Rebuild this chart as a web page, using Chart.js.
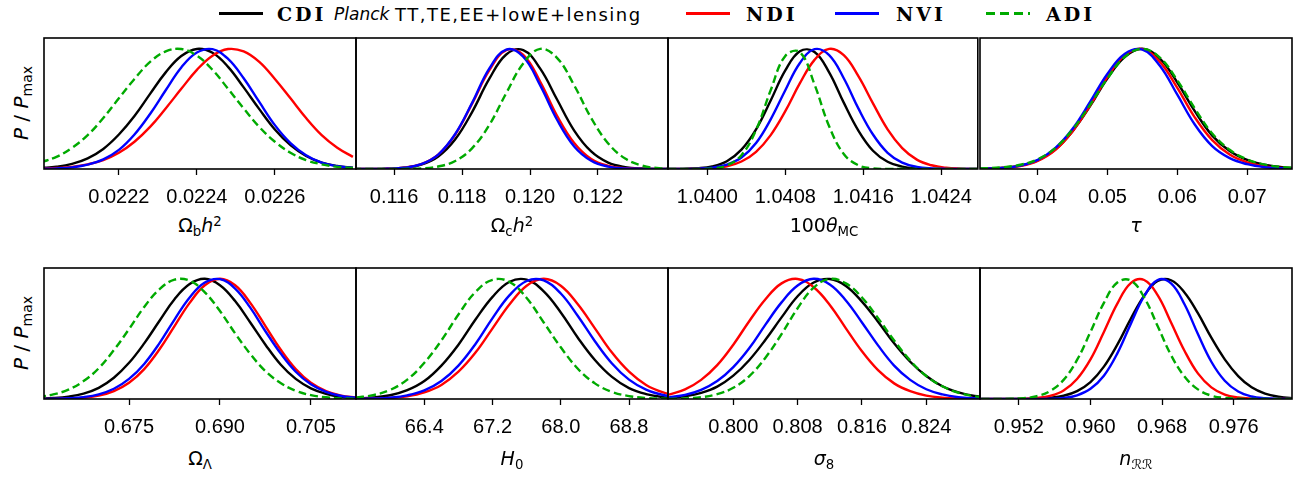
<!DOCTYPE html>
<html><head><meta charset="utf-8">
<script src="https://cdn.jsdelivr.net/npm/chart.js@4/dist/chart.umd.min.js"></script>
<style>
html,body{margin:0;padding:0;background:#fff;}
#root{position:relative;width:1306px;height:477px;overflow:hidden;font-family:"Liberation Sans",Arial,sans-serif;color:#000;}
canvas{position:absolute;}
.xt{position:absolute;width:312px;text-align:center;font-family:"DejaVu Sans",sans-serif;font-size:19px;line-height:19px;white-space:nowrap;}
.sb{position:relative;top:0.28em;font-size:0.7em;line-height:0;}
.sp{position:relative;top:-0.45em;font-size:0.7em;line-height:0;}
.yl{position:absolute;font-family:"DejaVu Sans",sans-serif;font-size:20px;line-height:20px;white-space:nowrap;transform:translate(-50%,-50%) rotate(-90deg);}
.lg{position:absolute;top:12px;width:44px;height:3px;}
.ls{position:absolute;top:5.5px;font-family:"DejaVu Sans",sans-serif;font-size:18px;line-height:18px;white-space:nowrap;letter-spacing:1.5px;}
.lp{position:absolute;top:6px;font-family:"DejaVu Sans",sans-serif;font-style:oblique;font-size:17px;line-height:17px;white-space:nowrap;}
.lb{position:absolute;top:4.6px;font-family:"DejaVu Serif",serif;font-weight:bold;font-size:19px;line-height:19px;letter-spacing:3px;white-space:nowrap;}
</style></head>
<body><div id="root">
<div class="lg" style="left:219px;background:#000"></div>
<div class="lb" style="left:277px">CDI</div>
<div class="lp" style="left:334px">Planck</div>
<div class="ls" style="left:395px">TT,TE,EE+lowE+lensing</div>
<div class="lg" style="left:686px;background:#ff0000"></div>
<div class="lb" style="left:746px">NDI</div>
<div class="lg" style="left:835px;background:#0000ff"></div>
<div class="lb" style="left:896px">NVI</div>
<div class="lg" style="left:986px;background:repeating-linear-gradient(90deg,#00aa00 0 9px,transparent 9px 14px)"></div>
<div class="lb" style="left:1046px">ADI</div>
<div class="yl" style="left:21px;top:103px"><i>P</i> / <i>P</i><span class="sb">max</span></div>
<div class="yl" style="left:21px;top:333px"><i>P</i> / <i>P</i><span class="sb">max</span></div>
</div>
<script>
// ---------- data ----------
const seriesNames = ['CDI Planck TT,TE,EE+lowE+lensing', 'NDI', 'NVI', 'ADI'];

// Omega_b h^2
const obh2_x   = [0.02200,0.02204,0.02208,0.02212,0.02216,0.02220,0.02224,0.02228,0.02232,0.02236,0.02240,0.02244,0.02248,0.02252,0.02256,0.02260,0.02264,0.02268,0.02272,0.02276,0.02280];
const obh2_cdi = [0.008,0.019,0.043,0.089,0.167,0.287,0.441,0.625,0.804,0.940,0.999,0.967,0.850,0.679,0.498,0.329,0.198,0.108,0.053,0.025,0.010];
const obh2_ndi = [0.003,0.008,0.018,0.039,0.074,0.135,0.227,0.350,0.504,0.667,0.825,0.943,0.998,0.978,0.891,0.749,0.588,0.424,0.282,0.177,0.101];
const obh2_nvi = [0.002,0.005,0.014,0.036,0.080,0.159,0.287,0.458,0.655,0.845,0.969,0.997,0.916,0.755,0.558,0.365,0.216,0.115,0.053,0.023,0.009];
const obh2_adi = [0.055,0.101,0.177,0.282,0.424,0.588,0.749,0.891,0.978,0.998,0.943,0.825,0.667,0.504,0.350,0.227,0.135,0.074,0.039,0.018,0.008];
const obh2_ticks = [0.0222,0.0224,0.0226];

// Omega_c h^2
const och2_x   = [0.1148,0.1153,0.1158,0.1163,0.1168,0.1173,0.1178,0.1183,0.1188,0.1193,0.1198,0.1203,0.1208,0.1213,0.1218,0.1223,0.1228,0.1233,0.1238,0.1243];
const och2_cdi = [0,0,0.002,0.010,0.036,0.104,0.247,0.476,0.749,0.953,0.989,0.835,0.576,0.320,0.146,0.053,0.016,0.004,0.001,0];
const och2_ndi = [0,0,0.002,0.011,0.041,0.120,0.287,0.546,0.820,0.989,0.950,0.726,0.441,0.216,0.083,0.026,0.006,0.001,0,0];
const och2_nvi = [0,0,0.002,0.010,0.040,0.120,0.291,0.552,0.835,0.993,0.934,0.696,0.408,0.188,0.069,0.020,0.005,0.001,0,0];
const och2_adi = [0,0,0,0.001,0.005,0.021,0.066,0.174,0.365,0.631,0.878,0.999,0.923,0.696,0.424,0.213,0.087,0.028,0.007,0.002];
const och2_ticks = [0.116,0.118,0.120,0.122];

// 100 theta_MC
const theta_x   = [1.0396,1.03975,1.0399,1.04005,1.0402,1.04035,1.0405,1.04065,1.0408,1.04095,1.0411,1.04125,1.0414,1.04155,1.0417,1.04185,1.0420,1.04215,1.0423,1.04245,1.0426,1.04275,1.0429];
const theta_cdi = [0,0.001,0.006,0.022,0.065,0.161,0.330,0.570,0.820,0.980,0.974,0.804,0.552,0.320,0.152,0.060,0.020,0.005,0.001,0,0,0,0];
const theta_ndi = [0,0,0.002,0.007,0.023,0.062,0.143,0.282,0.481,0.714,0.908,0.999,0.947,0.772,0.546,0.330,0.174,0.078,0.031,0.010,0.003,0.001,0];
const theta_nvi = [0,0,0.003,0.011,0.036,0.095,0.216,0.413,0.655,0.882,0.997,0.947,0.755,0.504,0.287,0.135,0.053,0.018,0.005,0.001,0,0,0];
const theta_adi = [0,0,0.001,0.005,0.030,0.115,0.325,0.655,0.941,0.972,0.703,0.355,0.125,0.031,0.005,0.001,0,0,0,0,0,0,0];
const theta_ticks = [1.0400,1.0408,1.0416,1.0424];

// tau
const tau_x   = [0.030,0.0325,0.035,0.0375,0.040,0.0425,0.045,0.0475,0.050,0.0525,0.055,0.0575,0.060,0.0625,0.065,0.0675,0.070,0.0725,0.075,0.0775];
const tau_cdi = [0.001,0.003,0.010,0.028,0.072,0.161,0.315,0.523,0.755,0.934,1.000,0.919,0.720,0.482,0.278,0.150,0.075,0.035,0.015,0.006];
const tau_ndi = [0.001,0.002,0.008,0.025,0.068,0.158,0.315,0.528,0.766,0.947,0.998,0.891,0.675,0.430,0.240,0.120,0.055,0.022,0.009,0.003];
const tau_nvi = [0.001,0.003,0.009,0.028,0.076,0.174,0.335,0.558,0.793,0.959,0.993,0.859,0.618,0.370,0.190,0.090,0.040,0.015,0.006,0.002];
const tau_adi = [0.003,0.006,0.015,0.035,0.081,0.174,0.330,0.534,0.755,0.934,1.000,0.927,0.738,0.504,0.296,0.160,0.080,0.037,0.016,0.006];
const tau_ticks = [0.04,0.05,0.06,0.07];

// Omega_Lambda
const ol_x   = [0.6600,0.6625,0.6650,0.6675,0.6700,0.6725,0.6750,0.6775,0.6800,0.6825,0.6850,0.6875,0.6900,0.6925,0.6950,0.6975,0.7000,0.7025,0.7050,0.7075,0.7100,0.7125];
const ol_cdi = [0.003,0.008,0.020,0.045,0.093,0.177,0.301,0.463,0.649,0.830,0.956,1.000,0.947,0.815,0.637,0.452,0.287,0.167,0.089,0.043,0.018,0.007];
const ol_ndi = [0,0.001,0.004,0.011,0.028,0.066,0.135,0.249,0.412,0.607,0.800,0.946,1.000,0.946,0.800,0.607,0.412,0.249,0.135,0.066,0.028,0.011];
const ol_nvi = [0.001,0.002,0.006,0.016,0.039,0.085,0.167,0.292,0.463,0.661,0.845,0.969,0.997,0.919,0.760,0.564,0.380,0.227,0.122,0.059,0.025,0.010];
const ol_adi = [0.016,0.038,0.078,0.149,0.256,0.407,0.582,0.766,0.912,0.993,0.984,0.887,0.732,0.546,0.375,0.232,0.133,0.068,0.032,0.014,0.005,0.002];
const ol_ticks = [0.675,0.690,0.705];

// H0
const h0_x   = [65.6,65.8,66.0,66.2,66.4,66.6,66.8,67.0,67.2,67.4,67.6,67.8,68.0,68.2,68.4,68.6,68.8,69.0,69.2,69.4];
const h0_cdi = [0.004,0.012,0.031,0.073,0.149,0.278,0.452,0.661,0.850,0.976,0.993,0.895,0.720,0.510,0.325,0.184,0.091,0.041,0.016,0.006];
const h0_ndi = [0.001,0.003,0.008,0.022,0.055,0.117,0.227,0.386,0.588,0.788,0.943,1.000,0.943,0.788,0.588,0.386,0.227,0.117,0.055,0.022];
const h0_nvi = [0.001,0.004,0.011,0.030,0.071,0.149,0.278,0.458,0.673,0.864,0.982,0.987,0.878,0.691,0.481,0.296,0.161,0.078,0.033,0.013];
const h0_adi = [0.012,0.032,0.076,0.161,0.301,0.487,0.703,0.891,0.992,0.974,0.840,0.637,0.430,0.252,0.130,0.059,0.024,0.008,0.003,0.001];
const h0_ticks = [66.4,67.2,68.0,68.8];

// sigma_8
const s8_x   = [0.792,0.794,0.796,0.798,0.800,0.802,0.804,0.806,0.808,0.810,0.812,0.814,0.816,0.818,0.820,0.822,0.824,0.826,0.828,0.830,0.832];
const s8_cdi = [0.009,0.023,0.051,0.103,0.194,0.325,0.493,0.679,0.855,0.969,0.998,0.941,0.810,0.643,0.463,0.310,0.191,0.106,0.055,0.025,0.011];
const s8_ndi = [0.037,0.080,0.159,0.282,0.452,0.649,0.830,0.962,0.999,0.930,0.783,0.588,0.397,0.240,0.130,0.065,0.028,0.011,0.004,0.001,0];
const s8_nvi = [0.014,0.034,0.076,0.149,0.265,0.424,0.619,0.804,0.944,1.000,0.953,0.820,0.637,0.446,0.278,0.159,0.081,0.038,0.015,0.006,0.002];
const s8_adi = [0.001,0.005,0.015,0.040,0.093,0.191,0.344,0.540,0.755,0.927,0.999,0.962,0.845,0.673,0.487,0.320,0.191,0.106,0.052,0.023,0.010];
const s8_ticks = [0.800,0.808,0.816,0.824];

// n_RR
const ns_x   = [0.9465,0.9480,0.9495,0.9510,0.9525,0.9540,0.9555,0.9570,0.9585,0.9600,0.9615,0.9630,0.9645,0.9660,0.9675,0.9690,0.9705,0.9720,0.9735,0.9750,0.9765,0.9780,0.9795,0.9810,0.9825,0.9840];
const ns_cdi = [0,0,0,0,0.001,0.003,0.010,0.027,0.066,0.141,0.269,0.452,0.667,0.860,0.982,0.988,0.887,0.714,0.510,0.330,0.191,0.097,0.045,0.019,0.007,0.002];
const ns_ndi = [0,0,0,0,0.002,0.008,0.026,0.071,0.167,0.330,0.558,0.793,0.964,0.990,0.864,0.637,0.402,0.213,0.097,0.037,0.012,0.003,0.001,0,0,0];
const ns_nvi = [0,0,0,0,0,0.001,0.002,0.009,0.031,0.085,0.194,0.380,0.625,0.855,0.990,0.962,0.788,0.540,0.310,0.152,0.062,0.021,0.006,0.001,0,0];
const ns_adi = [0,0,0,0.002,0.007,0.023,0.066,0.159,0.325,0.558,0.800,0.969,0.986,0.845,0.607,0.365,0.187,0.080,0.028,0.009,0.002,0,0,0,0,0];
const ns_ticks = [0.952,0.960,0.968,0.976];

// ---------- panels ----------
const panels = [
  {x: obh2_x, ys: [obh2_cdi, obh2_ndi, obh2_nvi, obh2_adi], ticks: obh2_ticks, min: 0.022008, max: 0.022808, dec: 4, title: 'Ω<span class="sb">b</span><i>h</i><span class="sp">2</span>'},
  {x: och2_x, ys: [och2_cdi, och2_ndi, och2_nvi, och2_adi], ticks: och2_ticks, min: 0.11488, max: 0.12406, dec: 3, title: 'Ω<span class="sb">c</span><i>h</i><span class="sp">2</span>'},
  {x: theta_x, ys: [theta_cdi, theta_ndi, theta_nvi, theta_adi], ticks: theta_ticks, min: 1.039596, max: 1.042776, dec: 4, title: '100<i>θ</i><span class="sb">MC</span>'},
  {x: tau_x, ys: [tau_cdi, tau_ndi, tau_nvi, tau_adi], ticks: tau_ticks, min: 0.03173, max: 0.07643, dec: 2, title: '<i>τ</i>'},
  {x: ol_x, ys: [ol_cdi, ol_ndi, ol_nvi, ol_adi], ticks: ol_ticks, min: 0.66097, max: 0.71244, dec: 3, title: 'Ω<span class="sb">Λ</span>'},
  {x: h0_x, ys: [h0_cdi, h0_ndi, h0_nvi, h0_adi], ticks: h0_ticks, min: 65.599, max: 69.257, dec: 1, title: '<i>H</i><span class="sb">0</span>'},
  {x: s8_x, ys: [s8_cdi, s8_ndi, s8_nvi, s8_adi], ticks: s8_ticks, min: 0.79188, max: 0.83068, dec: 3, title: '<i>σ</i><span class="sb">8</span>'},
  {x: ns_x, ys: [ns_cdi, ns_ndi, ns_nvi, ns_adi], ticks: ns_ticks, min: 0.94766, max: 0.98251, dec: 3, title: '<i>n</i><span class="sb">ℛℛ</span>'}
];

const lineColors = ['#000000', '#ff0000', '#0000ff', '#00aa00'];
const rowTops = [38, 268];
const titleTops = [216, 449];

const framePlugin = {
  id: 'frame',
  afterDraw(chart) {
    const {ctx, chartArea: a} = chart;
    ctx.save();
    ctx.strokeStyle = '#000';
    ctx.lineWidth = 1.6;
    ctx.strokeRect(a.left, a.top, a.right - a.left, a.bottom - a.top);
    ctx.restore();
  }
};

const root = document.getElementById('root');
panels.forEach((p, i) => {
  const r = Math.floor(i / 4), c = i % 4;
  const left = 44 + c * 312, top = rowTops[r];
  const cv = document.createElement('canvas');
  cv.width = 316; cv.height = 173;
  cv.style.left = (left - 2) + 'px';
  cv.style.top = (top - 2) + 'px';
  cv.style.width = '316px'; cv.style.height = '173px';
  root.appendChild(cv);

  const datasets = p.ys.map((ys, j) => ({
    label: seriesNames[j],
    data: p.x.map((xv, k) => ({x: xv, y: ys[k]})),
    borderColor: lineColors[j],
    backgroundColor: lineColors[j],
    borderWidth: 2.4,
    borderDash: j === 3 ? [8, 4] : [],
    pointRadius: 0,
    fill: false,
    tension: 0.4,
    order: 4 - j,
    clip: 0
  }));

  new Chart(cv, {
    type: 'line',
    data: {datasets},
    options: {
      animation: false,
      responsive: false,
      devicePixelRatio: 1,
      events: [],
      layout: {padding: {left: 2, right: 2, top: 2, bottom: 0}},
      plugins: {legend: {display: false}, tooltip: {enabled: false}},
      scales: {
        x: {
          type: 'linear',
          min: p.min, max: p.max,
          afterBuildTicks: s => { s.ticks = p.ticks.map(v => ({value: v})); },
          afterFit: s => { s.height = 40; },
          ticks: {
            callback: v => Number(v).toFixed(p.dec),
            font: {family: 'Liberation Sans', size: 20},
            color: '#000', padding: 10, maxRotation: 0, minRotation: 0, autoSkip: false
          },
          grid: {drawOnChartArea: false, drawTicks: true, tickLength: 6, tickColor: '#000', tickWidth: 1.3},
          border: {display: false}
        },
        y: {display: false, min: 0, max: 1.09}
      }
    },
    plugins: [framePlugin]
  });

  const t = document.createElement('div');
  t.className = 'xt';
  t.style.left = left + 'px';
  t.style.top = titleTops[r] + 'px';
  t.innerHTML = p.title;
  root.appendChild(t);
});
</script>
</body></html>
